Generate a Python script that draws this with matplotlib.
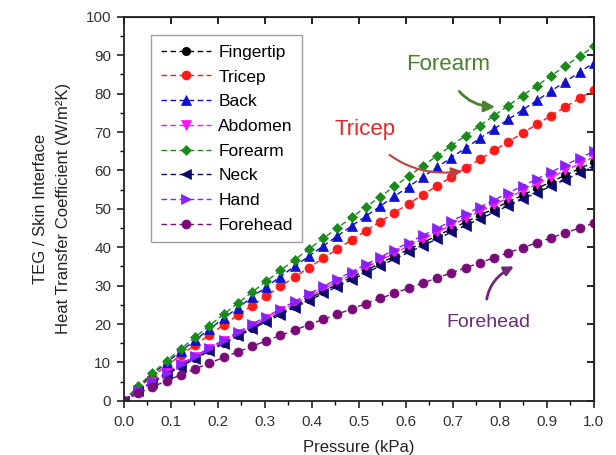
import matplotlib
matplotlib.use("Agg")
import matplotlib.pyplot as plt
from matplotlib.ticker import MultipleLocator

plt.rcParams['font.family'] = ['Liberation Sans', 'DejaVu Sans']

pressure = [0, 0.0303, 0.0606, 0.0909, 0.1212, 0.1515, 0.1818, 0.2121, 0.2424, 0.2727,
            0.3030, 0.3333, 0.3636, 0.3939, 0.4242, 0.4545, 0.4848, 0.5152, 0.5455, 0.5758,
            0.6061, 0.6364, 0.6667, 0.6970, 0.7273, 0.7576, 0.7879, 0.8182, 0.8485, 0.8788,
            0.9091, 0.9394, 0.9697, 1.0]

fingertip = [0, 2.58, 4.85, 7.02, 9.11, 11.16, 13.18, 15.17, 17.13, 19.07, 20.99, 22.88, 24.77,
             26.65, 28.51, 30.35, 32.19, 34.02, 35.83, 37.64, 39.44, 41.23, 43.01, 44.78, 46.55,
             48.32, 50.06, 51.82, 53.56, 55.30, 57.03, 58.76, 60.48, 62.2]
tricep = [0, 3.36, 6.32, 9.14, 11.87, 14.54, 17.16, 19.76, 22.31, 24.83, 27.34, 29.80, 32.26,
          34.70, 37.12, 39.53, 41.92, 44.30, 46.66, 49.01, 51.36, 53.69, 56.01, 58.32, 60.62,
          62.92, 65.20, 67.48, 69.75, 72.02, 74.27, 76.52, 78.76, 81.0]
back = [0, 3.65, 6.86, 9.93, 12.89, 15.80, 18.65, 21.46, 24.24, 26.98, 29.70, 32.38, 35.05,
        37.70, 40.33, 42.94, 45.54, 48.13, 50.69, 53.25, 55.80, 58.33, 60.85, 63.36, 65.86,
        68.36, 70.83, 73.31, 75.78, 78.24, 80.69, 83.13, 85.57, 88.0]
abdomen = [0, 2.64, 4.95, 7.16, 9.30, 11.40, 13.46, 15.49, 17.49, 19.47, 21.43, 23.36, 25.29,
           27.20, 29.10, 30.99, 32.86, 34.73, 36.58, 38.42, 40.27, 42.09, 43.91, 45.72, 47.52,
           49.33, 51.11, 52.90, 54.68, 56.46, 58.22, 59.99, 61.75, 63.5]
forearm = [0, 3.83, 7.20, 10.41, 13.52, 16.57, 19.56, 22.51, 25.42, 28.30, 31.15, 33.96, 36.76,
           39.54, 42.30, 45.04, 47.77, 50.48, 53.16, 55.85, 58.53, 61.18, 63.83, 66.46, 69.08,
           71.70, 74.29, 76.90, 79.48, 82.06, 84.63, 87.20, 89.75, 92.3]
neck = [0, 2.53, 4.76, 6.88, 8.94, 10.95, 12.93, 14.88, 16.80, 18.70, 20.59, 22.44, 24.30,
        26.13, 27.96, 29.77, 31.57, 33.36, 35.14, 36.91, 38.68, 40.43, 42.18, 43.92, 45.65,
        47.38, 49.10, 50.82, 52.53, 54.24, 55.93, 57.63, 59.32, 61.0]
hand = [0, 2.70, 5.07, 7.33, 9.52, 11.67, 13.77, 15.85, 17.90, 19.93, 21.94, 23.91, 25.89,
        27.85, 29.79, 31.72, 33.64, 35.55, 37.44, 39.33, 41.22, 43.08, 44.95, 46.80, 48.65,
        50.49, 52.32, 54.15, 55.97, 57.79, 59.60, 61.41, 63.21, 65.0]
forehead = [0, 1.92, 3.61, 5.22, 6.78, 8.31, 9.81, 11.29, 12.75, 14.20, 15.63, 17.03, 18.44,
            19.83, 21.22, 22.59, 23.96, 25.32, 26.67, 28.02, 29.36, 30.69, 32.02, 33.34, 34.65,
            35.97, 37.27, 38.57, 39.87, 41.17, 42.45, 43.74, 45.02, 46.3]

labels = ["Fingertip", "Tricep", "Back", "Abdomen", "Forearm", "Neck", "Hand", "Forehead"]
series = [fingertip, tricep, back, abdomen, forearm, neck, hand, forehead]
colors = ["#000000", "#ff1a1a", "#1010d0", "#ff10ff", "#1a8a1a", "#0a0a70", "#8a20ff", "#7a0a7a"]
markers = ["o", "o", "^", "v", "D", "<", ">", "o"]
msizes = [6, 6.5, 7, 7, 5.5, 7, 7, 6.5]

fig = plt.figure(figsize=(6.16, 4.55), dpi=100)
ax = fig.add_axes([0.201, 0.119, 0.763, 0.844])

for lab, ys, c, m, ms in zip(labels, series, colors, markers, msizes):
    ax.plot(pressure, ys, linestyle=(0, (4, 2.5)), color=c, linewidth=1.0,
            marker=m, markersize=ms, markeredgewidth=0.5, markeredgecolor=c, label=lab)

ax.set_xlim(0, 1.0)
ax.set_ylim(0, 100)
ax.xaxis.set_major_locator(MultipleLocator(0.1))
ax.xaxis.set_minor_locator(MultipleLocator(0.05))
ax.yaxis.set_major_locator(MultipleLocator(10))
ax.yaxis.set_minor_locator(MultipleLocator(5))
ax.set_xticklabels([f"{v:.1f}" for v in ax.get_xticks()])
ax.tick_params(axis='both', which='major', direction='out', length=5, width=1.2,
               labelsize=11, colors='#222222', labelcolor='#333333', pad=4)
ax.tick_params(axis='x', which='major', pad=5)
ax.tick_params(axis='both', which='minor', direction='out', length=3, width=1.0)
ax.tick_params(axis='both', which='both', top=False, right=False)
sec_y = ax.secondary_yaxis('right')
sec_y.yaxis.set_major_locator(MultipleLocator(10))
sec_y.tick_params(direction='in', length=5, width=1.2, labelright=False)
sec_x = ax.secondary_xaxis('top')
sec_x.xaxis.set_major_locator(MultipleLocator(0.1))
sec_x.tick_params(direction='in', length=5, width=1.2, labeltop=False)
for s in ax.spines.values():
    s.set_linewidth(1.3)
    s.set_color('#222222')

ax.set_xlabel("Pressure (kPa)", fontsize=12, color='#222222', labelpad=8)
ax.set_ylabel("TEG / Skin Interface\nHeat Transfer Coefficient (W/m²K)", fontsize=12,
              color='#222222', labelpad=11, linespacing=1.6)

leg = ax.legend(loc='upper left', bbox_to_anchor=(0.04, 0.975), fontsize=12.5,
                frameon=True, fancybox=False, edgecolor='#888888', handlelength=2.9,
                labelspacing=0.55, borderpad=0.55, handletextpad=0.4)
leg.get_frame().set_linewidth(1.0)

ax.annotate("Forearm", xy=(0.79, 76.5), xytext=(0.69, 87.5), fontsize=16,
            color="#4a8030", ha='center', va='center',
            arrowprops=dict(arrowstyle="-|>", color="#4a8030", lw=2,
                            connectionstyle="arc3,rad=0.4", shrinkA=11, shrinkB=0))
ax.annotate("Tricep", xy=(0.72, 59.8), xytext=(0.513, 70.6), fontsize=16,
            color="#e02828", ha='center', va='center',
            arrowprops=dict(arrowstyle="-|>", color="#c04040", lw=1.5,
                            connectionstyle="arc3,rad=0.3", shrinkA=13, shrinkB=0))
ax.annotate("Forehead", xy=(0.83, 35.0), xytext=(0.775, 20.3), fontsize=14,
            color="#6a2a78", ha='center', va='center',
            arrowprops=dict(arrowstyle="-|>", color="#6a2a78", lw=2,
                            connectionstyle="arc3,rad=-0.4", shrinkA=9, shrinkB=0))

fig.savefig("out.png", dpi=100)
